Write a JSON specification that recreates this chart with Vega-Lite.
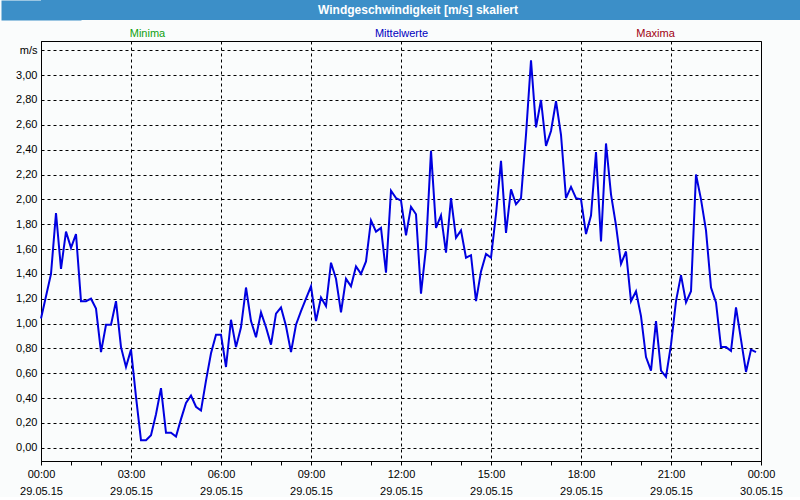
{
  "$schema": "https://vega.github.io/schema/vega-lite/v6.json",
  "background": "#fafcfc",
  "padding": 0,
  "spacing": 0,
  "config": {"font": "Liberation Sans", "view": {"stroke": "black", "strokeWidth": 1}},
  "vconcat": [
    {
      "width": 800,
      "height": 20,
      "view": {"fill": "#3c8fc8", "stroke": null},
      "data": {"values": [{"title": "Windgeschwindigkeit [m/s] skaliert"}]},
      "mark": {"type": "text", "color": "white", "fontWeight": "bold", "fontSize": 12, "dx": -23},
      "encoding": {
        "text": {"field": "title", "type": "nominal"},
        "y": {
          "field": "title",
          "type": "nominal",
          "axis": {"title": null, "labels": false, "ticks": false, "grid": false, "domain": true, "domainColor": "#3c8fc8", "domainWidth": 80, "minExtent": 40, "maxExtent": 40}
        }
      }
    },
    {
      "width": 720,
      "height": 420,
      "layer": [
        {
          "data": {
            "values": [
              {"t": "2015-05-29 00:00", "v": 1.04}, {"t": "2015-05-29 00:10", "v": 1.22}, {"t": "2015-05-29 00:20", "v": 1.40}, {"t": "2015-05-29 00:30", "v": 1.89}, {"t": "2015-05-29 00:40", "v": 1.44}, {"t": "2015-05-29 00:50", "v": 1.74},
              {"t": "2015-05-29 01:00", "v": 1.61}, {"t": "2015-05-29 01:10", "v": 1.72}, {"t": "2015-05-29 01:20", "v": 1.18}, {"t": "2015-05-29 01:30", "v": 1.18}, {"t": "2015-05-29 01:40", "v": 1.20}, {"t": "2015-05-29 01:50", "v": 1.12},
              {"t": "2015-05-29 02:00", "v": 0.77}, {"t": "2015-05-29 02:10", "v": 0.99}, {"t": "2015-05-29 02:20", "v": 0.99}, {"t": "2015-05-29 02:30", "v": 1.18}, {"t": "2015-05-29 02:40", "v": 0.81}, {"t": "2015-05-29 02:50", "v": 0.65},
              {"t": "2015-05-29 03:00", "v": 0.79}, {"t": "2015-05-29 03:10", "v": 0.41}, {"t": "2015-05-29 03:20", "v": 0.06}, {"t": "2015-05-29 03:30", "v": 0.06}, {"t": "2015-05-29 03:40", "v": 0.10}, {"t": "2015-05-29 03:50", "v": 0.27},
              {"t": "2015-05-29 04:00", "v": 0.48}, {"t": "2015-05-29 04:10", "v": 0.12}, {"t": "2015-05-29 04:20", "v": 0.12}, {"t": "2015-05-29 04:30", "v": 0.09}, {"t": "2015-05-29 04:40", "v": 0.23}, {"t": "2015-05-29 04:50", "v": 0.36},
              {"t": "2015-05-29 05:00", "v": 0.42}, {"t": "2015-05-29 05:10", "v": 0.33}, {"t": "2015-05-29 05:20", "v": 0.30}, {"t": "2015-05-29 05:30", "v": 0.54}, {"t": "2015-05-29 05:40", "v": 0.76}, {"t": "2015-05-29 05:50", "v": 0.91},
              {"t": "2015-05-29 06:00", "v": 0.91}, {"t": "2015-05-29 06:10", "v": 0.65}, {"t": "2015-05-29 06:20", "v": 1.03}, {"t": "2015-05-29 06:30", "v": 0.81}, {"t": "2015-05-29 06:40", "v": 0.97}, {"t": "2015-05-29 06:50", "v": 1.29},
              {"t": "2015-05-29 07:00", "v": 1.02}, {"t": "2015-05-29 07:10", "v": 0.89}, {"t": "2015-05-29 07:20", "v": 1.09}, {"t": "2015-05-29 07:30", "v": 0.97}, {"t": "2015-05-29 07:40", "v": 0.83}, {"t": "2015-05-29 07:50", "v": 1.08},
              {"t": "2015-05-29 08:00", "v": 1.13}, {"t": "2015-05-29 08:10", "v": 0.98}, {"t": "2015-05-29 08:20", "v": 0.77}, {"t": "2015-05-29 08:30", "v": 0.99}, {"t": "2015-05-29 08:40", "v": 1.10}, {"t": "2015-05-29 08:50", "v": 1.20},
              {"t": "2015-05-29 09:00", "v": 1.30}, {"t": "2015-05-29 09:10", "v": 1.02}, {"t": "2015-05-29 09:20", "v": 1.21}, {"t": "2015-05-29 09:30", "v": 1.14}, {"t": "2015-05-29 09:40", "v": 1.49}, {"t": "2015-05-29 09:50", "v": 1.36},
              {"t": "2015-05-29 10:00", "v": 1.09}, {"t": "2015-05-29 10:10", "v": 1.36}, {"t": "2015-05-29 10:20", "v": 1.30}, {"t": "2015-05-29 10:30", "v": 1.46}, {"t": "2015-05-29 10:40", "v": 1.40}, {"t": "2015-05-29 10:50", "v": 1.50},
              {"t": "2015-05-29 11:00", "v": 1.83}, {"t": "2015-05-29 11:10", "v": 1.74}, {"t": "2015-05-29 11:20", "v": 1.77}, {"t": "2015-05-29 11:30", "v": 1.41}, {"t": "2015-05-29 11:40", "v": 2.07}, {"t": "2015-05-29 11:50", "v": 2.01},
              {"t": "2015-05-29 12:00", "v": 1.99}, {"t": "2015-05-29 12:10", "v": 1.71}, {"t": "2015-05-29 12:20", "v": 1.94}, {"t": "2015-05-29 12:30", "v": 1.88}, {"t": "2015-05-29 12:40", "v": 1.24}, {"t": "2015-05-29 12:50", "v": 1.61},
              {"t": "2015-05-29 13:00", "v": 2.39}, {"t": "2015-05-29 13:10", "v": 1.77}, {"t": "2015-05-29 13:20", "v": 1.87}, {"t": "2015-05-29 13:30", "v": 1.57}, {"t": "2015-05-29 13:40", "v": 2.01}, {"t": "2015-05-29 13:50", "v": 1.69},
              {"t": "2015-05-29 14:00", "v": 1.75}, {"t": "2015-05-29 14:10", "v": 1.53}, {"t": "2015-05-29 14:20", "v": 1.55}, {"t": "2015-05-29 14:30", "v": 1.18}, {"t": "2015-05-29 14:40", "v": 1.42}, {"t": "2015-05-29 14:50", "v": 1.56},
              {"t": "2015-05-29 15:00", "v": 1.53}, {"t": "2015-05-29 15:10", "v": 1.88}, {"t": "2015-05-29 15:20", "v": 2.31}, {"t": "2015-05-29 15:30", "v": 1.73}, {"t": "2015-05-29 15:40", "v": 2.08}, {"t": "2015-05-29 15:50", "v": 1.96},
              {"t": "2015-05-29 16:00", "v": 2.01}, {"t": "2015-05-29 16:10", "v": 2.52}, {"t": "2015-05-29 16:20", "v": 3.12}, {"t": "2015-05-29 16:30", "v": 2.58}, {"t": "2015-05-29 16:40", "v": 2.80}, {"t": "2015-05-29 16:50", "v": 2.43},
              {"t": "2015-05-29 17:00", "v": 2.55}, {"t": "2015-05-29 17:10", "v": 2.79}, {"t": "2015-05-29 17:20", "v": 2.52}, {"t": "2015-05-29 17:30", "v": 2.01}, {"t": "2015-05-29 17:40", "v": 2.10}, {"t": "2015-05-29 17:50", "v": 2.01},
              {"t": "2015-05-29 18:00", "v": 2.00}, {"t": "2015-05-29 18:10", "v": 1.72}, {"t": "2015-05-29 18:20", "v": 1.87}, {"t": "2015-05-29 18:30", "v": 2.38}, {"t": "2015-05-29 18:40", "v": 1.66}, {"t": "2015-05-29 18:50", "v": 2.45},
              {"t": "2015-05-29 19:00", "v": 2.04}, {"t": "2015-05-29 19:10", "v": 1.79}, {"t": "2015-05-29 19:20", "v": 1.48}, {"t": "2015-05-29 19:30", "v": 1.58}, {"t": "2015-05-29 19:40", "v": 1.18}, {"t": "2015-05-29 19:50", "v": 1.26},
              {"t": "2015-05-29 20:00", "v": 1.06}, {"t": "2015-05-29 20:10", "v": 0.73}, {"t": "2015-05-29 20:20", "v": 0.62}, {"t": "2015-05-29 20:30", "v": 1.02}, {"t": "2015-05-29 20:40", "v": 0.62}, {"t": "2015-05-29 20:50", "v": 0.57},
              {"t": "2015-05-29 21:00", "v": 0.83}, {"t": "2015-05-29 21:10", "v": 1.18}, {"t": "2015-05-29 21:20", "v": 1.39}, {"t": "2015-05-29 21:30", "v": 1.17}, {"t": "2015-05-29 21:40", "v": 1.26}, {"t": "2015-05-29 21:50", "v": 2.20},
              {"t": "2015-05-29 22:00", "v": 2.00}, {"t": "2015-05-29 22:10", "v": 1.75}, {"t": "2015-05-29 22:20", "v": 1.29}, {"t": "2015-05-29 22:30", "v": 1.17}, {"t": "2015-05-29 22:40", "v": 0.81}, {"t": "2015-05-29 22:50", "v": 0.81},
              {"t": "2015-05-29 23:00", "v": 0.78}, {"t": "2015-05-29 23:10", "v": 1.13}, {"t": "2015-05-29 23:20", "v": 0.87}, {"t": "2015-05-29 23:30", "v": 0.61}, {"t": "2015-05-29 23:40", "v": 0.79}, {"t": "2015-05-29 23:50", "v": 0.77}
            ]
          },
          "mark": {"type": "line", "color": "#0000e0", "strokeWidth": 2},
          "encoding": {
            "x": {
              "field": "t",
              "type": "temporal",
              "scale": {"domain": [{"year": 2015, "month": 5, "date": 29}, {"year": 2015, "month": 5, "date": 30}]},
              "axis": {
                "title": null,
                "orient": "bottom",
                "values": [
                  {"year": 2015, "month": 5, "date": 29, "hours": 0}, {"year": 2015, "month": 5, "date": 29, "hours": 1}, {"year": 2015, "month": 5, "date": 29, "hours": 2},
                  {"year": 2015, "month": 5, "date": 29, "hours": 3}, {"year": 2015, "month": 5, "date": 29, "hours": 4}, {"year": 2015, "month": 5, "date": 29, "hours": 5},
                  {"year": 2015, "month": 5, "date": 29, "hours": 6}, {"year": 2015, "month": 5, "date": 29, "hours": 7}, {"year": 2015, "month": 5, "date": 29, "hours": 8},
                  {"year": 2015, "month": 5, "date": 29, "hours": 9}, {"year": 2015, "month": 5, "date": 29, "hours": 10}, {"year": 2015, "month": 5, "date": 29, "hours": 11},
                  {"year": 2015, "month": 5, "date": 29, "hours": 12}, {"year": 2015, "month": 5, "date": 29, "hours": 13}, {"year": 2015, "month": 5, "date": 29, "hours": 14},
                  {"year": 2015, "month": 5, "date": 29, "hours": 15}, {"year": 2015, "month": 5, "date": 29, "hours": 16}, {"year": 2015, "month": 5, "date": 29, "hours": 17},
                  {"year": 2015, "month": 5, "date": 29, "hours": 18}, {"year": 2015, "month": 5, "date": 29, "hours": 19}, {"year": 2015, "month": 5, "date": 29, "hours": 20},
                  {"year": 2015, "month": 5, "date": 29, "hours": 21}, {"year": 2015, "month": 5, "date": 29, "hours": 22}, {"year": 2015, "month": 5, "date": 29, "hours": 23},
                  {"year": 2015, "month": 5, "date": 30, "hours": 0}
                ],
                "labelExpr": "hours(datum.value) % 3 === 0 ? [timeFormat(datum.value, '%H:%M'), timeFormat(datum.value, '%d.%m.%y')] : ''",
                "grid": true,
                "gridDash": [3, 3],
                "gridColor": "black",
                "gridOpacity": {"condition": {"test": "hours(datum.value) % 3 === 0", "value": 1}, "value": 0},
                "domainColor": "black",
                "tickColor": "black",
                "tickSize": 4,
                "labelColor": "black",
                "labelFontSize": 11,
                "labelPadding": 3,
                "labelLineHeight": 17,
                "labelFlush": false,
                "labelOverlap": false,
                "labelBound": false,
                "zindex": 0
              }
            },
            "y": {
              "field": "v",
              "type": "quantitative",
              "scale": {"domain": [-0.107, 3.275], "nice": false, "zero": false},
              "axis": {
                "title": null,
                "values": [0, 0.2, 0.4, 0.6, 0.8, 1, 1.2, 1.4, 1.6, 1.8, 2, 2.2, 2.4, 2.6, 2.8, 3, 3.2],
                "labelExpr": "datum.value > 3.1 ? 'm/s' : replace(format(datum.value, '.2f'), '.', ',')",
                "ticks": false,
                "grid": true,
                "gridDash": [3, 3],
                "gridColor": "black",
                "domainColor": "black",
                "labelColor": "black",
                "labelFontSize": 11,
                "labelPadding": 4,
                "minExtent": 40,
                "maxExtent": 40,
                "zindex": 0
              }
            }
          }
        },
        {
          "data": {"values": [{"s": "Minima"}, {"s": "Mittelwerte"}, {"s": "Maxima"}]},
          "mark": {"type": "point", "opacity": 0},
          "encoding": {
            "x": {
              "field": "s",
              "type": "nominal",
              "sort": null,
              "scale": {"type": "point", "padding": 0.417},
              "axis": {
                "orient": "top",
                "title": null,
                "domain": false,
                "ticks": false,
                "grid": false,
                "labelAngle": 0,
                "labelPadding": 3,
                "labelFontSize": 11,
                "labelColor": {"expr": "datum.value === 'Minima' ? '#10a010' : datum.value === 'Maxima' ? '#a00010' : '#0000c0'"},
                "minExtent": 20,
                "maxExtent": 20
              }
            }
          }
        }
      ],
      "resolve": {"scale": {"x": "independent"}, "axis": {"x": "independent"}}
    }
  ]
}
